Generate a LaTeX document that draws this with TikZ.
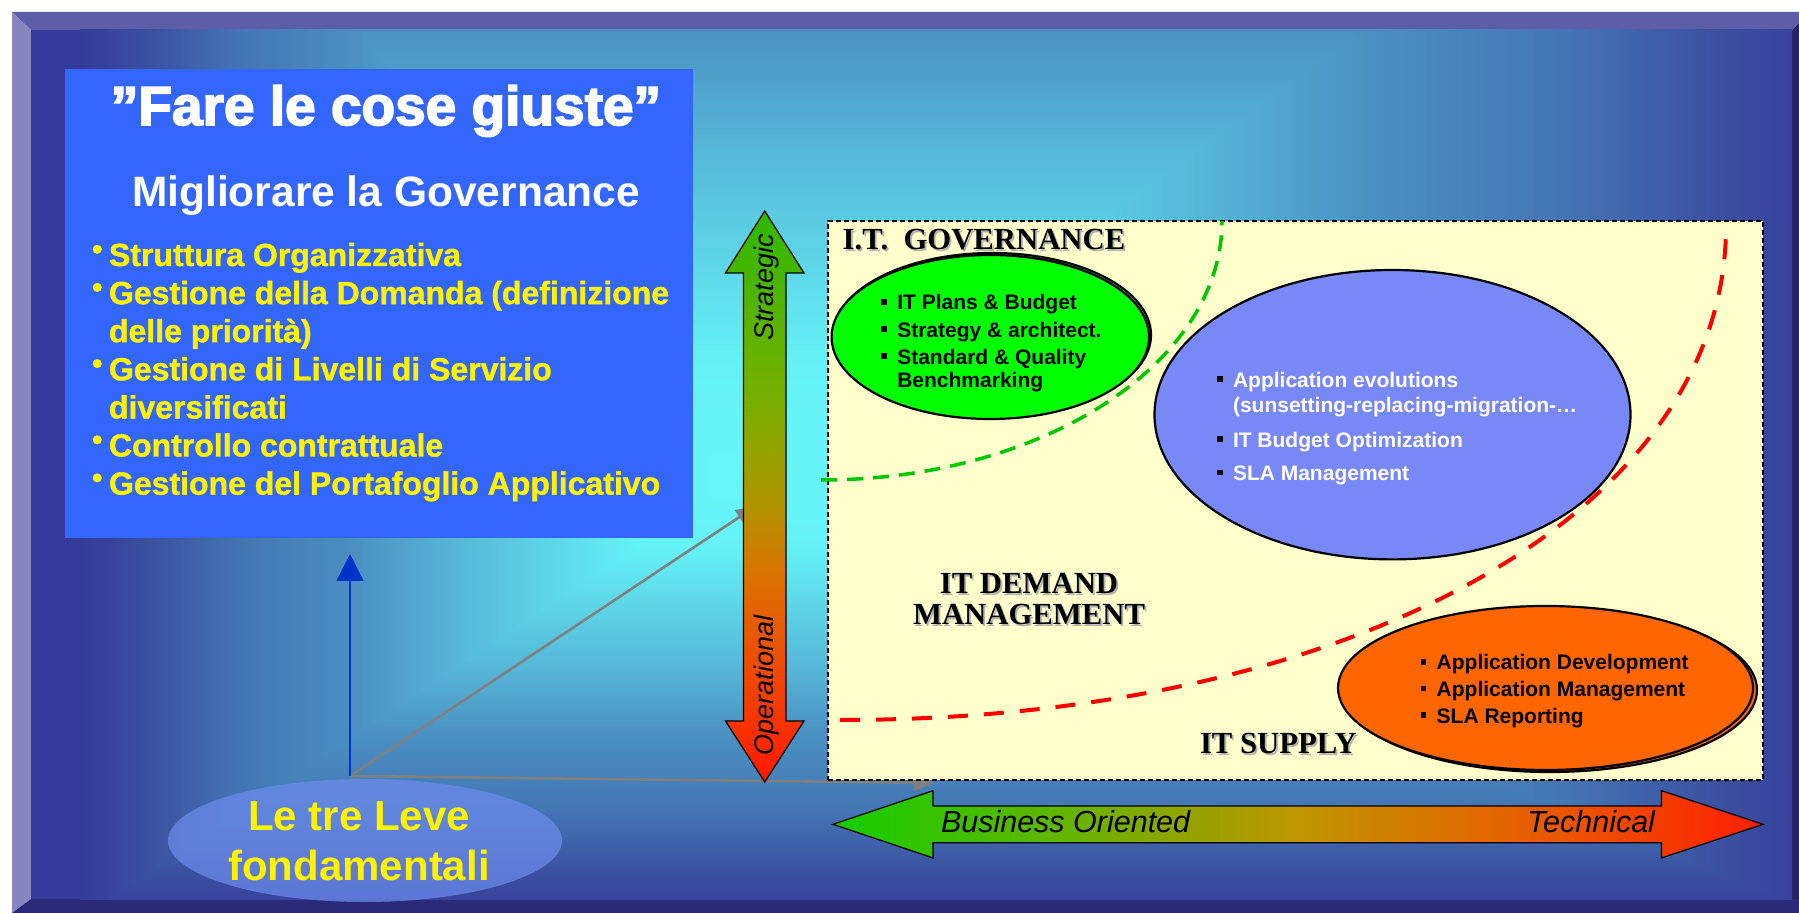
\documentclass[tikz,border=0pt]{standalone}
\usepackage{fontspec}
\setmainfont{Liberation Sans}
\newfontfamily\serifrm{Liberation Serif}
\newfontfamily\heavyA[FakeBold=3]{Liberation Sans Bold}
\newfontfamily\heavyB[FakeBold=1.2]{Liberation Sans Bold}
\usetikzlibrary{shapes.geometric,arrows.meta}

% background ramp
\definecolor{bgA}{RGB}{102,246,248}
\definecolor{bgB}{RGB}{100,242,246}
\definecolor{bgC}{RGB}{86,184,216}
\definecolor{bgD}{RGB}{74,144,194}
\definecolor{bgE}{RGB}{68,118,180}
\definecolor{bgF}{RGB}{58,79,160}
\definecolor{bgG}{RGB}{54,58,154}
% frame
\definecolor{bevtop}{RGB}{94,94,168}
\definecolor{bevleft}{RGB}{134,134,192}
\definecolor{bevbot}{RGB}{42,42,120}
\definecolor{bevright}{RGB}{36,36,102}
% shapes
\definecolor{boxblue}{RGB}{51,102,255}
\definecolor{paleyellow}{RGB}{255,255,204}
\definecolor{ellgreen}{RGB}{0,255,0}
\definecolor{ellblue}{RGB}{120,136,247}
\definecolor{ellorange}{RGB}{255,102,0}
\definecolor{levefill}{RGB}{108,140,236}
\definecolor{arrblue}{RGB}{0,51,204}
\definecolor{dashgreen}{RGB}{0,200,0}
\definecolor{dashred}{RGB}{255,0,0}
\definecolor{linegray}{RGB}{128,128,128}
% horizontal arrow gradient
\definecolor{hg0}{RGB}{20,205,0}
\definecolor{hg1}{RGB}{100,180,0}
\definecolor{hg2}{RGB}{190,150,0}
\definecolor{hg3}{RGB}{225,105,0}
\definecolor{hg4}{RGB}{240,70,0}
\definecolor{hg5}{RGB}{255,30,0}
% vertical arrow gradient
\definecolor{vg0}{RGB}{255,25,0}
\definecolor{vg1}{RGB}{245,60,0}
\definecolor{vg2}{RGB}{222,110,0}
\definecolor{vg3}{RGB}{176,150,0}
\definecolor{vg4}{RGB}{120,176,0}
\definecolor{vg5}{RGB}{46,184,0}

\pgfdeclareverticalshading{bgramp}{100bp}{color(0bp)=(bgA); color(25bp)=(bgA); color(32.5bp)=(bgB); color(46bp)=(bgC); color(54bp)=(bgD); color(62.5bp)=(bgE); color(70bp)=(bgF); color(75bp)=(bgG); color(100bp)=(bgG)}
\pgfdeclarehorizontalshading{hgrad}{100bp}{color(0bp)=(hg0); color(25bp)=(hg0); color(37.5bp)=(hg1); color(50bp)=(hg2); color(60bp)=(hg3); color(67.5bp)=(hg4); color(75bp)=(hg5); color(100bp)=(hg5)}
\pgfdeclareverticalshading{vgrad}{100bp}{color(0bp)=(vg0); color(25bp)=(vg0); color(32bp)=(vg1); color(42.5bp)=(vg2); color(49.5bp)=(vg3); color(58.5bp)=(vg4); color(75bp)=(vg5); color(100bp)=(vg5)}

\newcommand{\ybul}{\makebox[8.5pt][l]{\raisebox{3.4pt}{\fontsize{15pt}{15pt}\selectfont\textbullet}}}
\newcommand{\sqb}{\makebox[8pt][l]{\raisebox{2.7pt}{\textcolor{black}{\rule{2.8pt}{2.8pt}}}}}
\newcommand{\shtext}[1]{\makebox[0pt][l]{\hspace{0.9pt}\raisebox{-0.9pt}{\textcolor{black!30}{#1}}}#1}

\begin{document}
\begin{tikzpicture}[x=0.5pt,y=-0.5pt,
  every node/.style={inner sep=0pt, outer sep=0pt},
  ybl/.style={anchor=base west, text=yellow, font=\heavyB\fontsize{16pt}{19pt}\selectfont},
  elltxt/.style={anchor=base west, font=\bfseries\fontsize{10.5pt}{12pt}\selectfont},
  zone/.style={font=\serifrm\bfseries\fontsize{15.35pt}{18pt}\selectfont},
  axtxt/.style={font=\itshape\fontsize{15.25pt}{18pt}\selectfont},
  vaxtxt/.style={font=\itshape\fontsize{13.5pt}{16pt}\selectfont, rotate=90},
  gline/.style={draw=linegray, line width=1.3pt, -{Triangle[length=10pt,width=8pt]}},
  ellbox/.style={ellipse, draw=black, line width=1.1pt},
]
\useasboundingbox (0,0) rectangle (1799,913);
\fill[white] (0,0) rectangle (1799,913);

% ---- frame bevels
\fill[bevtop] (12,12) -- (1799,12) -- (1799,23) -- (1792,30) -- (31,30) -- cycle;
\fill[bevleft] (12,12) -- (31,30) -- (31,899) -- (12,913) -- cycle;
\fill[bevbot] (12,913) -- (31,899) -- (1799,899) -- (1799,913) -- cycle;
\fill[bevright] (1792,30) -- (1799,23) -- (1799,899) -- (1792,899) -- cycle;

% ---- background gradient (rectangular, from centre)
\begin{scope}
  \clip (31,30) rectangle (1792,899);
  \fill[bgG] (31,30) rectangle (1792,899);
  \begin{scope}
    \clip (31,30) rectangle (735,899);
    \shade[shading=bgramp, shading angle=90] (80,30) rectangle (734,899);
  \end{scope}
  \begin{scope}
    \clip (734,30) rectangle (1792,899);
    \shade[shading=bgramp, shading angle=-90] (734,30) rectangle (1834,899);
  \end{scope}
  \begin{scope}
    \clip (734,482) -- ++(2200,-1580) -- ++(-3508,0) -- cycle;
    \shade[shading=bgramp] (-600,-308) rectangle (2400,482);
  \end{scope}
  \begin{scope}
    \clip (734,482) -- ++(2200,872) -- ++(-3508,0) -- cycle;
    \shade[shading=bgramp, shading angle=180] (-600,482) rectangle (2400,918);
  \end{scope}
\end{scope}

% ---- governance box
\node (govbox) [fill=boxblue, minimum width=314pt, minimum height=234.5pt, anchor=north west] at (65,69) {};
\node (title) [anchor=base, text=white, font=\heavyA\fontsize{27.5pt}{30pt}\selectfont] at (386,125) {”Fare le cose giuste”};
\node (subtitle) [anchor=base, text=white, font=\bfseries\fontsize{21.25pt}{24pt}\selectfont] at (386,206.5) {Migliorare la Governance};
\node (b1) [ybl] at (92,266) {\ybul Struttura Organizzativa};
\node (b2) [ybl] at (92,304.1) {\ybul Gestione della Domanda (definizione};
\node (b2b) [ybl] at (109,342.2) {delle priorità)};
\node (b3) [ybl] at (92,380.3) {\ybul Gestione di Livelli di Servizio};
\node (b3b) [ybl] at (109,418.4) {diversificati};
\node (b4) [ybl] at (92,456.5) {\ybul Controllo contrattuale};
\node (b5) [ybl] at (92,494.6) {\ybul Gestione del Portafoglio Applicativo};

% ---- connectors from the hub
\coordinate (hub) at (350,776);
\coordinate (blueTip) at (350,554);
\coordinate (grayTipA) at (756,506);
\coordinate (grayTipB) at (934,783);
\draw[gline] (hub) -- (grayTipA);
\draw[gline] (hub) -- (grayTipB);
\draw[draw=arrblue, line width=1.4pt, -{Triangle[length=13.5pt,width=13.3pt]}] (hub) -- (blueTip);

% ---- vertical gradient double arrow
\shadedraw[shading=vgrad, draw=black, line width=0.6pt]
  (764.75,211) -- (804,273) -- (786,273) -- (786,721) -- (804,721) -- (764.75,782)
  -- (725.5,721) -- (743.5,721) -- (743.5,273) -- (725.5,273) -- cycle;
\node (strat) [vaxtxt] at (767,287.5) {Strategic};
\node (oper) [vaxtxt] at (767,685.5) {Operational};

% ---- IT area box
\node (itbox) [draw=black, line width=0.6pt, dash pattern=on 2.5pt off 1.5pt, fill=paleyellow,
  minimum width=467.5pt, minimum height=279.5pt, anchor=north west] at (828,221) {};

% ---- ellipses
\node (govShadow) [ellbox, fill=ellgreen, minimum width=158.7pt, minimum height=82pt] at (992.3,335) {};
\node (govEll) [ellbox, fill=ellgreen, minimum width=158.7pt, minimum height=82pt] at (990.3,337) {};
\node (demEll) [ellbox, fill=ellblue, minimum width=238pt, minimum height=144.7pt] at (1392.5,414.7) {};
\node (supShadow) [ellbox, fill=ellorange, minimum width=207.5pt, minimum height=82pt] at (1549.5,690) {};
\node (supEll) [ellbox, fill=ellorange, minimum width=207.5pt, minimum height=82pt] at (1545.5,688) {};

% ---- dashed boundaries
\coordinate (gS) at (821,480);
\coordinate (gE) at (1222,221);
\coordinate (rS) at (840,720);
\coordinate (rE) at (1726,226);
\draw[dashgreen, line width=1.75pt, dash pattern=on 8pt off 5pt]
  (gS) .. controls (1042,480) and (1222,364) .. (gE);
\draw[dashred, line width=2pt, dash pattern=on 10pt off 8pt]
  (rS) .. controls (1354,720) and (1726,512) .. (rE);

% ---- ellipse texts
\node (g1) [elltxt] at (881.3,310) {\sqb IT Plans \& Budget};
\node (g2) [elltxt] at (881.3,337.3) {\sqb Strategy \& architect.};
\node (g3) [elltxt] at (881.3,364.3) {\sqb Standard \& Quality};
\node (g4) [elltxt] at (897.3,387.3) {Benchmarking};

\node (d1) [elltxt, text=white] at (1217,387.3) {\sqb Application evolutions};
\node (d2) [elltxt, text=white] at (1233,412.3) {(sunsetting-replacing-migration-…};
\node (d3) [elltxt, text=white] at (1217,447.3) {\sqb IT Budget Optimization};
\node (d4) [elltxt, text=white] at (1217,480.7) {\sqb SLA Management};

\node (s1) [elltxt] at (1420.7,670) {\sqb Application Development};
\node (s2) [elltxt] at (1420.7,696.7) {\sqb Application Management};
\node (s3) [elltxt] at (1420.7,723.3) {\sqb SLA Reporting};

% ---- zone labels
\node (zGov) [zone, anchor=base west] at (842.7,249.3) {\shtext{I.T.\ \ GOVERNANCE}};
\node (zDem1) [zone, anchor=base] at (1029,593.3) {\shtext{IT DEMAND}};
\node (zDem2) [zone, anchor=base] at (1029,625) {\shtext{MANAGEMENT}};
\node (zSup) [zone, anchor=base west] at (1200,753.3) {\shtext{IT SUPPLY}};

% ---- horizontal gradient double arrow
\shadedraw[shading=hgrad, draw=black, line width=0.6pt]
  (833,824.3) -- (933,790.7) -- (933,806) -- (1661.5,806) -- (1661.5,790.7) -- (1763,824.3)
  -- (1661.5,857.9) -- (1661.5,842.7) -- (933,842.7) -- (933,857.9) -- cycle;
\node (biz) [axtxt, anchor=base west] at (941,833) {Business Oriented};
\node (tech) [axtxt, anchor=base east] at (1655,833) {Technical};

% ---- le tre leve
\node (leve) [ellipse, fill=levefill, fill opacity=0.72, minimum width=197pt, minimum height=61.5pt] at (365,840.5) {};
\node (leveA) [anchor=base, text=yellow, font=\bfseries\fontsize{21pt}{24pt}\selectfont] at (359,830.7) {Le tre Leve};
\node (leveB) [anchor=base, text=yellow, font=\bfseries\fontsize{21pt}{24pt}\selectfont] at (359,880.7) {fondamentali};
\end{tikzpicture}
\end{document}
